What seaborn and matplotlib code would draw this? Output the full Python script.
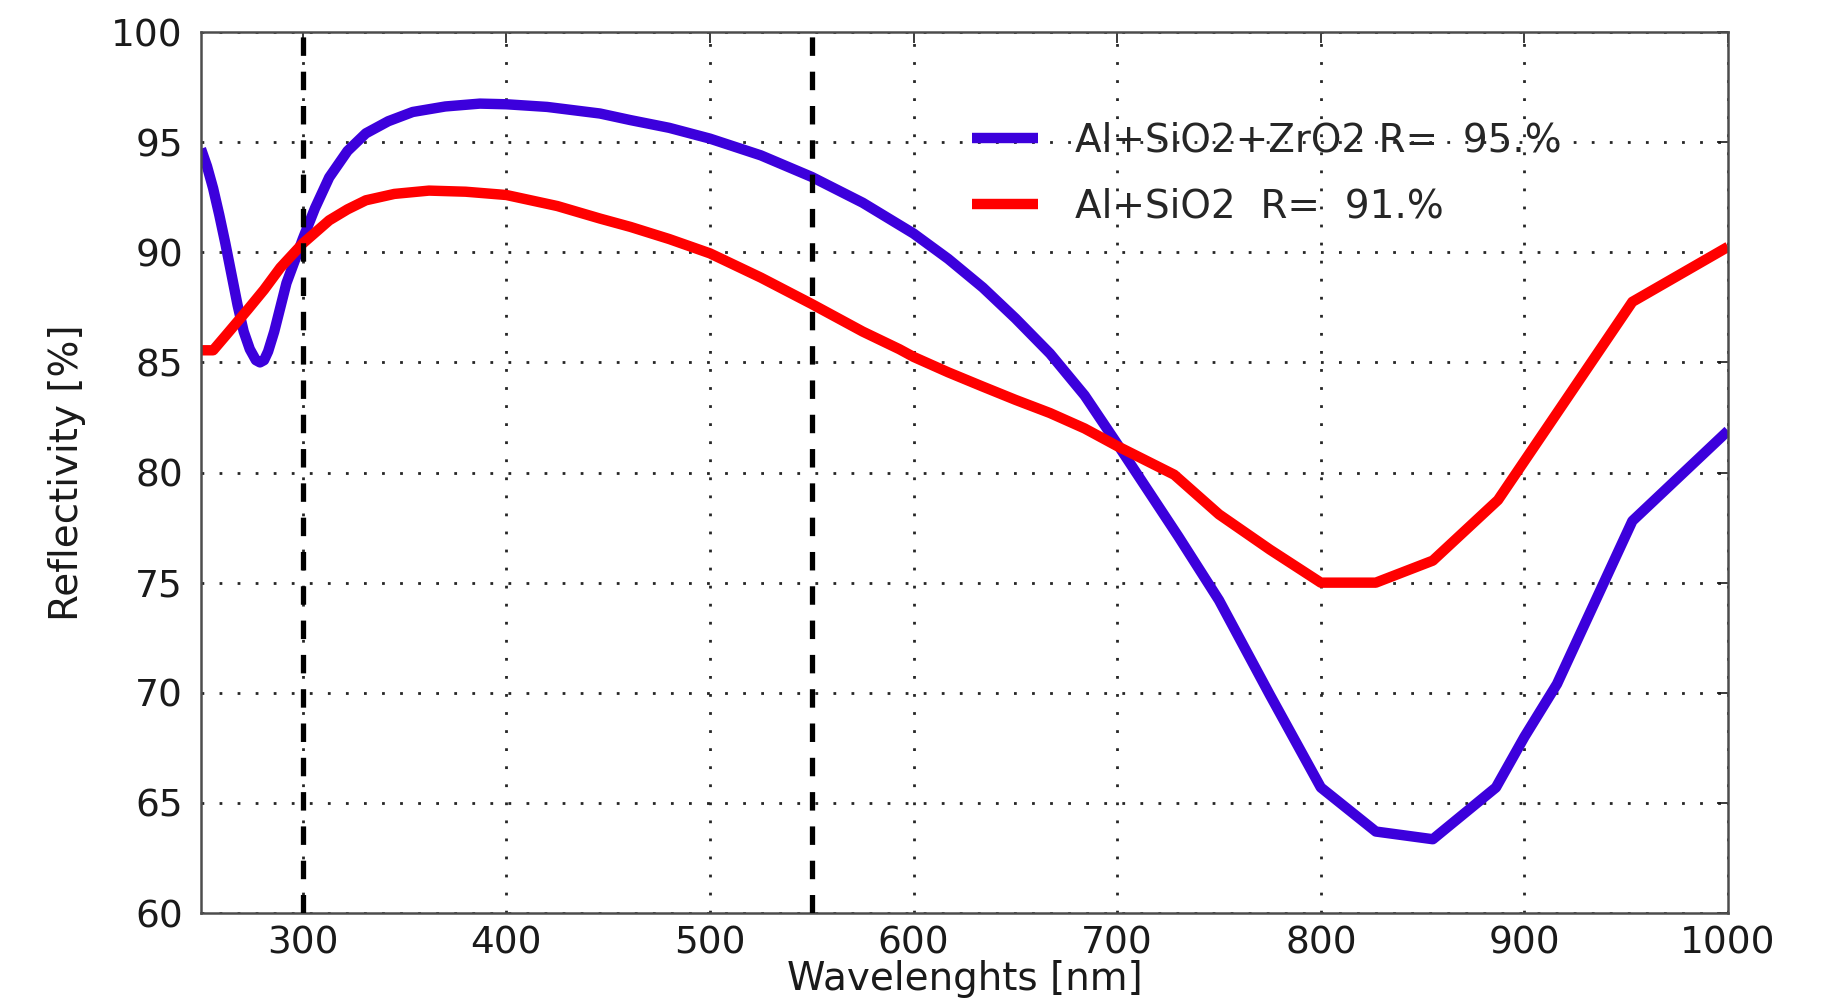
import matplotlib
matplotlib.use("Agg")
import matplotlib.pyplot as plt
import seaborn as sns
import pandas as pd

# ---- data ----
wl_blue = [250, 253, 256, 259, 262, 265, 268, 271, 274, 277, 279, 281, 283, 286, 289, 292,
           296, 300, 306, 313, 322, 331, 342, 354, 370, 387, 400, 420, 446, 461, 480, 500,
           525, 550, 575, 600, 617, 634, 650, 667, 684, 700, 715, 730, 750, 775, 800,
           827, 855, 886, 900, 916, 953, 1000]
r_blue = [94.7, 93.9, 92.9, 91.7, 90.4, 89.0, 87.6, 86.4, 85.6, 85.1, 85.0, 85.1, 85.5, 86.4,
          87.5, 88.6, 89.6, 90.6, 92.0, 93.4, 94.6, 95.4, 95.95, 96.37, 96.62, 96.75, 96.72,
          96.6, 96.3, 96.0, 95.65, 95.16, 94.4, 93.42, 92.25, 90.85, 89.7, 88.4, 87.0,
          85.4, 83.5, 81.3, 79.2, 77.1, 74.2, 69.9, 65.7, 63.7, 63.35, 65.7, 68.0, 70.4,
          77.8, 81.9]

wl_red = [250, 256, 262, 273, 281, 289, 300, 313, 322, 331, 345, 362, 380, 400, 425, 446,
          461, 480, 500, 525, 550, 575, 593, 600, 617, 634, 650, 667, 684, 700, 728, 750,
          775, 800, 827, 855, 887, 953, 1000]
r_red = [85.55, 85.55, 86.2, 87.4, 88.3, 89.3, 90.4, 91.45, 91.95, 92.36, 92.65, 92.8, 92.75,
         92.6, 92.1, 91.53, 91.15, 90.6, 89.95, 88.85, 87.65, 86.4, 85.6, 85.25, 84.55, 83.9,
         83.3, 82.7, 82.0, 81.2, 79.9, 78.1, 76.5, 75.0, 75.0, 76.0, 78.75, 87.75, 90.25]

label_blue = "Al+SiO2+ZrO2 R=  95.%"
label_red = "Al+SiO2  R=  91.%"
markers_wl = [300, 550]
x_ticks = [300, 400, 500, 600, 700, 800, 900, 1000]
y_ticks = [60, 65, 70, 75, 80, 85, 90, 95, 100]

df_blue = pd.DataFrame({"wl": wl_blue, "R": r_blue})
df_red = pd.DataFrame({"wl": wl_red, "R": r_red})

sns.set_style("white")
plt.rcParams["font.family"] = ["DejaVu Sans"]

fig = plt.figure(figsize=(18.3, 10.01), dpi=100)
ax = fig.add_axes([0.1098, 0.0879, 0.8345, 0.8801])

sns.lineplot(data=df_blue, x="wl", y="R", ax=ax, color="#3c00dc", lw=7.5,
             label=label_blue, sort=False, solid_joinstyle="round", solid_capstyle="butt")
sns.lineplot(data=df_red, x="wl", y="R", ax=ax, color="#ff0000", lw=7.5,
             label=label_red, sort=False, solid_joinstyle="round", solid_capstyle="butt")

for m in markers_wl:
    ax.axvline(m, color="black", lw=3.8, linestyle=(0, (3.5, 3.0)), zorder=3)

ax.set_xlim(250, 1000)
ax.set_ylim(60, 100)
ax.set_xticks(x_ticks)
ax.set_yticks(y_ticks)
ax.grid(True, color="0.15", linestyle=(0, (1, 5.5)), lw=2)
ax.set_axisbelow(True)

ax.tick_params(axis="both", direction="in", length=8, width=1.2, labelsize=27,
               colors="0.1", top=True, right=True)
ax.tick_params(axis="y", pad=13)
ax.tick_params(axis="x", pad=9)
for s in ax.spines.values():
    s.set_color("0.3")
    s.set_linewidth(1.8)
    s.set_visible(True)

ax.set_xlabel("Wavelenghts [nm]", fontsize=28, labelpad=-1, color="0.1")
ax.set_ylabel("Reflectivity [%]", fontsize=28, labelpad=18, color="0.1")

ax.legend(loc="upper left", bbox_to_anchor=(0.505, 0.898), frameon=False, fontsize=28,
          borderaxespad=0, borderpad=0, handlelength=1.7, handletextpad=0.94,
          labelspacing=0.72)

fig.savefig("out.png", dpi=100, facecolor="white")
